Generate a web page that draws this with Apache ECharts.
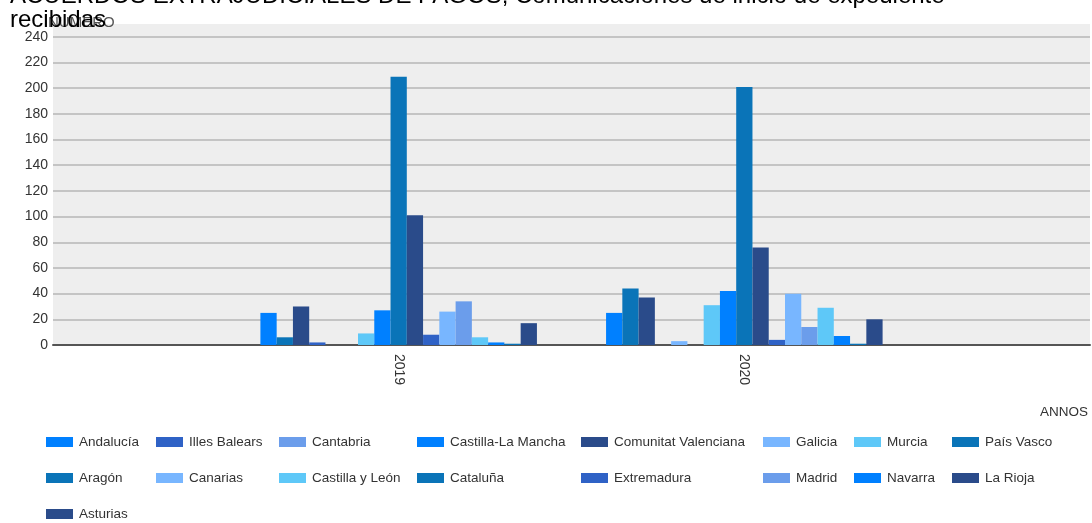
<!DOCTYPE html>
<html>
<head>
<meta charset="utf-8">
<script src="https://cdn.jsdelivr.net/npm/echarts@6/dist/echarts.min.js"></script>
<style>
html,body{margin:0;padding:0;background:#fff;}
#chart{width:1092px;height:523px;}
</style>
</head>
<body>
<div id="chart"></div>
<script>
const titleText = 'ACUERDOS EXTRAJUDICIALES DE PAGOS, Comunicaciones de inicio de expediente\nrecibidas';
const categories = ['', '2019', '2020', ''];
const regions = ['Andalucía','Aragón','Asturias','Illes Balears','Canarias','Cantabria','Castilla y León','Castilla-La Mancha','Cataluña','Comunitat Valenciana','Extremadura','Galicia','Madrid','Murcia','Navarra','País Vasco','La Rioja'];
const values2019 = [25, 6, 30, 2, 0, 0, 9, 27, 209, 101, 8, 26, 34, 6, 2, 1, 17];
const values2020 = [25, 44, 37, 0, 3, 0, 31, 42, 201, 76, 4, 40, 14, 29, 7, 1, 20];
const yTicks = {min: 0, max: 250, interval: 20};
const palette = ['#0080FF', '#0A74B8', '#2A4B8A', '#2F62C6', '#78B6FF', '#6B9DEB', '#5EC8F8'];
const legendColumns = [
  ['Andalucía','Aragón','Asturias'],
  ['Illes Balears','Canarias'],
  ['Cantabria','Castilla y León'],
  ['Castilla-La Mancha','Cataluña'],
  ['Comunitat Valenciana','Extremadura'],
  ['Galicia','Madrid'],
  ['Murcia','Navarra'],
  ['País Vasco','La Rioja']
];
const legendLeft = [46, 156, 279, 417, 581, 763, 854, 952];

const FONT = '"Liberation Sans", Arial, sans-serif';
const chart = echarts.init(document.getElementById('chart'), null, {renderer: 'canvas'});

const series = regions.map((name, i) => ({
  name: name,
  type: 'bar',
  barGap: '0%',
  barCategoryGap: '20%',
  itemStyle: {color: palette[i % palette.length]},
  data: ['-', values2019[i], values2020[i], '-']
}));

const legends = legendColumns.map((col, k) => ({
  data: col,
  orient: 'vertical',
  left: legendLeft[k],
  top: 435,
  padding: 0,
  itemWidth: 27,
  itemHeight: 10,
  itemGap: 22,
  icon: 'rect',
  selectedMode: false,
  textStyle: {fontFamily: FONT, fontSize: 13.5, color: '#333', lineHeight: 14, padding: [0, 0, 0, 1]}
}));

chart.setOption({
  animation: false,
  color: palette,
  title: {
    text: titleText,
    left: 10,
    top: -15.4,
    padding: 0,
    textStyle: {fontFamily: FONT, fontSize: 24, fontWeight: 'normal', color: '#000', lineHeight: 24}
  },
  legend: legends,
  grid: {left: 53, right: 2, top: 24, bottom: 178, show: true, backgroundColor: '#EEEEEE', borderWidth: 0},
  xAxis: {
    type: 'category',
    data: categories,
    boundaryGap: false,
    name: 'ANNOS',
    nameLocation: 'end',
    nameGap: -2,
    nameTextStyle: {fontFamily: FONT, fontSize: 13.5, color: '#333', align: 'right', verticalAlign: 'top', padding: [60, 0, 0, 0]},
    axisLine: {lineStyle: {color: '#555', width: 2}},
    axisTick: {show: false},
    axisLabel: {rotate: -90, fontFamily: FONT, fontSize: 14, color: '#333', margin: 9},
    splitLine: {show: false}
  },
  yAxis: {
    type: 'value',
    min: yTicks.min,
    max: yTicks.max,
    interval: yTicks.interval,
    name: 'NUMERO',
    nameLocation: 'end',
    nameGap: 0,
    nameTextStyle: {fontFamily: FONT, fontSize: 15, color: '#555', align: 'left', verticalAlign: 'middle', padding: [0, 0, 0, -5]},
    axisLine: {show: false},
    axisTick: {show: false},
    axisLabel: {fontFamily: FONT, fontSize: 14, color: '#333', margin: 5, showMaxLabel: false},
    splitLine: {show: true, showMaxLine: false, lineStyle: {color: '#C4C4C4', width: 2}}
  },
  series: series
});
</script>
</body>
</html>
